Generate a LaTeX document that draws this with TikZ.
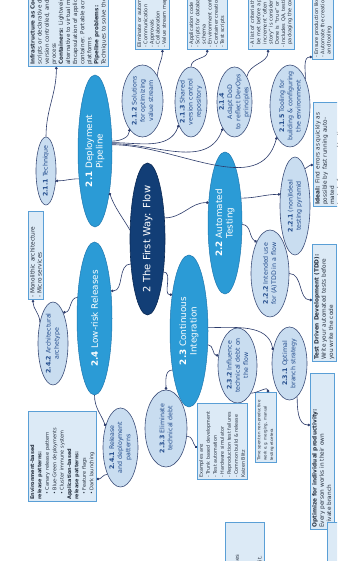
\documentclass[tikz,border=0pt]{standalone}
\usepackage{fontspec}
\setmainfont{DejaVu Sans}
\usetikzlibrary{shapes.geometric,arrows.meta,calc}

\definecolor{hubfill}{HTML}{123E76}
\definecolor{hubline}{HTML}{0B2A55}
\definecolor{branchfill}{HTML}{2B9BD6}
\definecolor{branchline}{HTML}{1F78B0}
\definecolor{leaffill}{HTML}{C9DDF0}
\definecolor{leafline}{HTML}{3D4F7A}
\definecolor{leafink}{HTML}{234C8C}
\definecolor{notefill}{HTML}{DCEAF6}
\definecolor{noteline}{HTML}{5A9FD6}
\definecolor{noteink}{HTML}{26303F}
\definecolor{wirecol}{HTML}{2C3B6B}

\newcommand\fsz[2]{\fontsize{#1}{#2}\selectfont}
% ellipse of fixed size with its caption laid on top
\newcommand\bubble[6]{%
  \node[#1, minimum width=#4pt, minimum height=#5pt] (#2) at #3 {};
  \node[#1text] at (#2) {#6};}

\tikzset{
  hub/.style={ellipse, fill=hubfill, draw=hubline, line width=0.6pt, inner sep=0pt},
  hubtext/.style={text=white, font=\fsz{10}{12}, align=center, inner sep=0pt},
  branch/.style={ellipse, fill=branchfill, draw=branchline, line width=0.5pt, inner sep=0pt},
  branchtext/.style={text=white, font=\fsz{8.8}{10.5}, align=center, inner sep=0pt},
  leaf/.style={ellipse, fill=leaffill, draw=leafline, line width=0.6pt, inner sep=0pt},
  leaftext/.style={text=leafink, font=\fsz{6.3}{8.2}, align=center, inner sep=0pt},
  note/.style={rectangle, fill=notefill, draw=noteline, line width=0.6pt, inner sep=2pt,
    align=left, text=noteink, font=\fsz{5}{6.2}, anchor=north west},
  wire/.style={draw=wirecol, line width=0.6pt, -{Circle[length=2.6pt]}},
}

\begin{document}
\begin{tikzpicture}[x=1pt, y=1pt, rotate=90, transform shape]
\useasboundingbox (0,-337) rectangle (561,0);
\fill[white] (0,-337) rectangle (561,0);
\clip (0,-337) rectangle (561,0);

% ---- central topic and main branches
\bubble{hub}{c}{(322,-147.5)}{152}{35}{2 The First Way: Flow}
\bubble{branch}{n21}{(410,-95)}{152}{34}{\textbf{2.1} Deployment\\Pipeline}
\bubble{branch}{n22}{(338,-225)}{142}{34}{\textbf{2.2} Automated\\Testing}
\bubble{branch}{n23}{(230,-189)}{152}{38}{\textbf{2.3} Continuous\\Integration}
\bubble{branch}{n24}{(242.5,-94.5)}{153}{35}{\textbf{2.4} Low-risk Releases}

% ---- sub topics
\bubble{leaf}{n211}{(390,-46)}{68}{20}{\textbf{2.1.1} Technique}
\bubble{leaf}{n212}{(460,-142.5)}{72}{41}{\textbf{2.1.2} Solutions\\for optimizing\\value stream}
\bubble{leaf}{n213}{(459,-191)}{70}{32}{\textbf{2.1.3} Shared\\version control\\repository}
\bubble{leaf}{n214}{(459,-234.5)}{70}{35}{\textbf{2.1.4}\\Adapt DoD\\to reflect DevOps\\principles}
\bubble{leaf}{n215}{(455,-290)}{82}{40}{\textbf{2.1.5} Tooling for\\building \& configuring\\the environment}
\bubble{leaf}{n221}{(355,-295)}{98}{30}{\textbf{2.2.1} (non)Ideal\\testing pyramid}
\bubble{leaf}{n222}{(287.5,-270)}{87}{38}{\textbf{2.2.2} Intended use\\for (A)TDD in a flow}
\bubble{leaf}{n231}{(197.5,-289.5)}{73}{35}{\textbf{2.3.1} Optimal\\branch strategy}
\bubble{leaf}{n232}{(195.5,-237.5)}{75}{39}{\textbf{2.3.2} Influence\\technical debt on\\the flow}
\bubble{leaf}{n233}{(132.5,-166)}{77}{42}{\textbf{2.3.3} Eliminate\\technical debt}
\bubble{leaf}{n241}{(113.5,-120.5)}{79}{35}{\textbf{2.4.1} Release\\and deployment\\patterns}
\bubble{leaf}{n242}{(217.5,-53)}{83}{30}{\textbf{2.4.2} Architectural\\archetype}

% ---- notes
\node[note, font=\fsz{5.6}{7.1}, text width=120pt] (b1) at (494,-28)
  {\textbf{Infrastructure as Code:}\\scripts or declarative definitions\\version controlled, and automated\\process\\
   \textbf{Containers:} Lightweight\\alternative to virtual machines.\\Encapsulation of application in a\\container. Portable across\\platforms\\
   \textbf{Pipeline problems:}\\Techniques to solve them};
\node[note, text width=80pt] (b2) at (511,-135)
  {Eliminate or automate:\\- Communication\\- Approvals\\- Collaboration\\- Value stream mapping};
\node[note, text width=80pt] (b3) at (511,-187)
  {- Application code\\- Scripts for database\\\phantom{- }schema\\- Environment config\\- Container creation\\- Test scripts};
\node[note, text width=100pt] (b4) at (511,-248)
  {- A list of criteria that must\\\phantom{- }be met before a product\\\phantom{- }increment “often a user\\\phantom{- }story” is considered done.\\\phantom{- }Done is “true” or “false”\\- Includes QA, testing and\\\phantom{- }packaging the code};
\node[note, text width=120pt] (b5) at (501,-312)
  {- Ensure production like environments\\- Automate the creation by scripts\\\phantom{- }and tooling};
\node[note, font=\fsz{5.8}{7.2}, text width=100pt] (b6) at (354,-313)
  {\textbf{Ideal:} Find errors as quickly as\\possible by fast running automated\\tests before manual testing};
\node[note, font=\fsz{5.8}{7.2}, text width=113pt] (b7) at (199,-312)
  {\textbf{Test Driven Development (TDD):}\\Write your automated tests before\\you write the code};
\node[note, font=\fsz{5.8}{7.2}, text width=152pt] (b8) at (31,-310)
  {\textbf{Optimize for individual productivity:}\\Every person works in their own\\private branch};
\node[note, font=\fsz{4}{6.4}, text width=66pt] (b9) at (98,-255)
  {Time spent on non-productive\\work e.g. merging, manual\\testing etcetera};
\node[note, font=\fsz{4.8}{7}, text width=72pt] (b10) at (81,-197)
  {Examples are:\\- Trunk based development\\- Test automation\\- Hardware simulator\\- Reproduction test failures\\- Common build \& release\\Kaizen Blitz};
\node[note, font=\fsz{5}{7.4}, text width=86pt] (b11) at (59,-28)
  {\textbf{Environment-based}\\\textbf{release patterns:}\\\quad\textbullet\ Canary release pattern\\\quad\textbullet\ Blue-Green deployments\\\quad\textbullet\ Cluster immune system\\
   \textbf{Application-based}\\\textbf{release patterns:}\\\quad\textbullet\ Feature flags\\\quad\textbullet\ Dark launching};
\node[note, font=\fsz{5.8}{7}, text width=84pt] (b12) at (261,-28)
  {- Monolithic architecture\\- Micro services};
\node[note, anchor=north east, font=\fsz{5.2}{7.6}, text width=110pt] (b13) at (39,-225)
  {Experiment with a scientific\\method: test your hypotheses\\by designing and building a\\minimal prototype and the\\users' feedback to improve it.};
\draw[fill=notefill, draw=noteline, line width=0.6pt] (39,-327) rectangle (-20,-350);

% ---- connectors
\draw[wire] (c.63) to[out=30, in=200] (n21.199);
\draw[wire] (c.-39) to[out=-90, in=90] (n22.39);
\draw[wire] (c.146) to[out=90, in=-90] (n24.-31.5);
\draw[wire] (c.206) to[out=-90, in=90] (n23.25);

\draw[wire] (n21.150) to[out=90, in=-90] (n211.225);
\draw[wire] (n211.east) to[out=0, in=180] ($(b1.north west)!0.35!(b1.south west)$);
\draw[wire] (n21.300) to[out=-90, in=180] (n212.155);
\draw[wire] (n21.296) to[out=-90, in=160] (n213.152);
\draw[wire] (n21.293) to[out=-90, in=160] (n214.156);
\draw[wire] (n21.290) to[out=-90, in=165] (n215.157);
\draw[wire] (n212.-31) to[out=0, in=180] ($(b2.north west)!0.8!(b2.south west)$);
\draw[wire] (n213.east) to[out=0, in=180] (b3.west);
\draw[wire] (n214.-26) to[out=-10, in=180] ($(b4.north west)!0.43!(b4.south west)$);
\draw[wire] (n215.-30) to[out=0, in=90] ($(b5.north west)+(3,0)$);

\draw[wire] (n22.-33) to[out=-90, in=90] (n221.52);
\draw[wire] (n22.265) to[out=-90, in=60] (n222.23);
\draw[wire] (n221.-15) to[out=-60, in=90] ($(b6.north west)+(42,0)$);
\draw[wire] (n222.south) to[out=-90, in=90] ($(b7.north west)+(62,0)$);

\draw[wire] (n23.-80) to[out=-90, in=10] (n231.51);
\draw[wire] (n23.234) to[out=-90, in=90] (n232.62);
\draw[wire] (n23.157) to[out=90, in=0] (n233.east);
\draw[wire] (n232.206) to[out=-90, in=0] ($(b9.north east)+(0,-13)$);
\draw[wire] (n231.193) to[out=180, in=90] ($(b8.north west)+(105,0)$);
\draw[wire] (n233.250) to[out=-90, in=45] ($(b10.north west)+(32,0)$);

\draw[wire] (n24.west) to[out=180, in=20] (n241.35);
\draw[wire] (n24.39) to[out=90, in=-90] (n242.-18);
\draw[wire] (n242.32) to[out=0, in=180] ($(b12.north west)+(0,-5)$);
\draw[wire] (n241.154) to[out=90, in=-90] ($(b11.south west)+(23,0)$);
\end{tikzpicture}
\end{document}
